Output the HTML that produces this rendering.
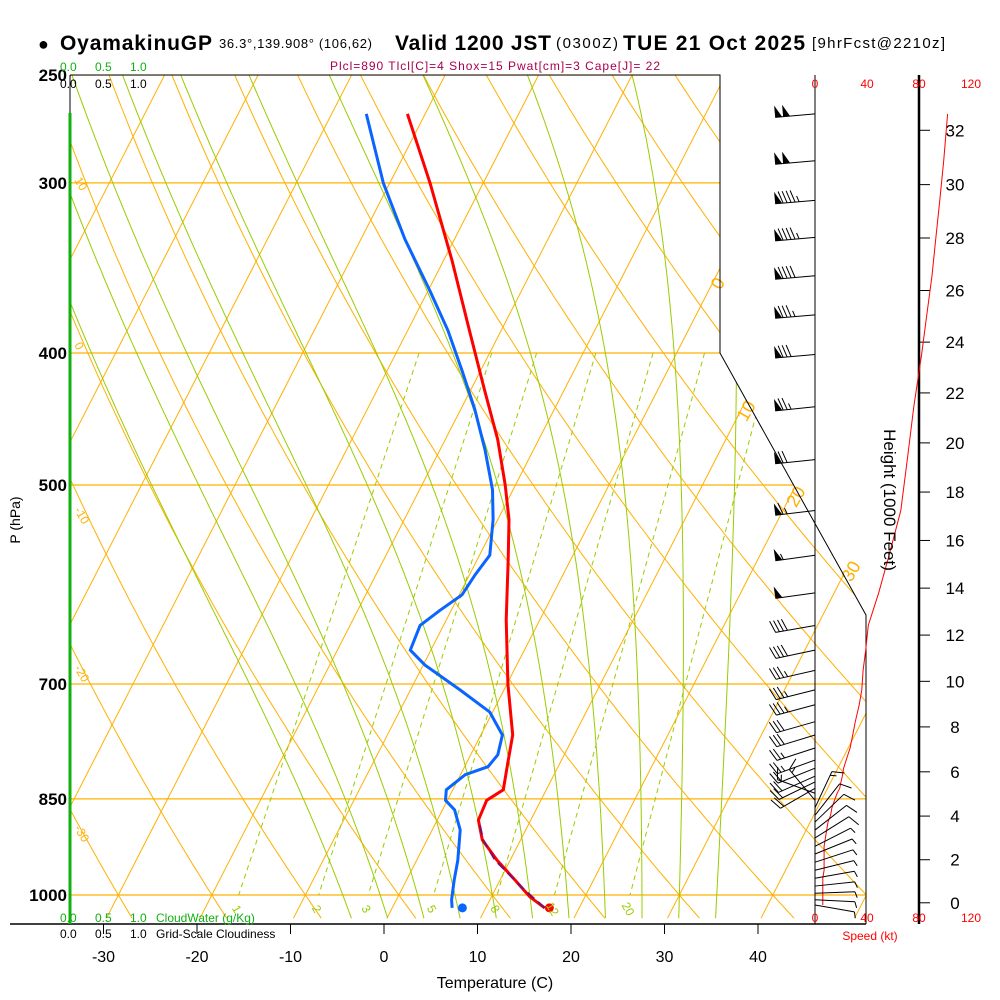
<!DOCTYPE html>
<html><head><meta charset="utf-8"><style>
body{margin:0;background:#fff}
svg{display:block;font-family:"Liberation Sans",sans-serif}
</style></head><body>
<svg id="c" width="1000" height="1000" viewBox="0 0 1000 1000">
<defs><clipPath id="clip"><polygon points="70,75 720,75 720,353 866,615 866,924 70,924"/></clipPath></defs>
<g id="grid" clip-path="url(#clip)"></g>
<g id="prof"></g>
<g id="ax"></g>
<g id="wind"></g>
<text x="38" y="50" font-size="18">●</text>
<text x="60" y="50" font-size="21" font-weight="bold" textLength="152">OyamakinuGP</text>
<text x="219" y="48" font-size="13" textLength="153">36.3°,139.908° (106,62)</text>
<text x="395" y="50" font-size="21" font-weight="bold" textLength="156">Valid 1200 JST</text>
<text x="556" y="48" font-size="15" textLength="62">(0300Z)</text>
<text x="623" y="50" font-size="21" font-weight="bold" textLength="182">TUE 21 Oct 2025</text>
<text x="812" y="48" font-size="15" textLength="133">[9hrFcst@2210z]</text>
<text x="495" y="70" font-size="12" fill="#a8004f" text-anchor="middle" textLength="330">Plcl=890 Tlcl[C]=4 Shox=15 Pwat[cm]=3 Cape[J]= 22</text>
<g font-size="12">
<text x="60" y="71" fill="#10b010">0.0</text><text x="95" y="71" fill="#10b010">0.5</text><text x="130" y="71" fill="#10b010">1.0</text>
<text x="60" y="88">0.0</text><text x="95" y="88">0.5</text><text x="130" y="88">1.0</text>
</g>
<g font-size="12">
<text x="60" y="922" fill="#10b010">0.0</text><text x="95" y="922" fill="#10b010">0.5</text><text x="130" y="922" fill="#10b010">1.0</text>
<text x="156" y="922" fill="#10b010">CloudWater (g/Kg)</text>
<text x="60" y="938">0.0</text><text x="95" y="938">0.5</text><text x="130" y="938">1.0</text>
<text x="156" y="938">Grid-Scale Cloudiness</text>
</g>
<text transform="translate(20,520) rotate(-90)" font-size="14" text-anchor="middle">P (hPa)</text>
<text x="495" y="988" font-size="16" text-anchor="middle">Temperature (C)</text>
<text transform="translate(884,500) rotate(90)" font-size="17" text-anchor="middle">Height (1000 Feet)</text>
<text x="870" y="940" font-size="12" fill="#f00" text-anchor="middle">Speed (kt)</text>
</svg>
<script>
// ---- data ----
const pressureTicks=[250,300,400,500,700,850,1000];
const tempTicks=[-30,-20,-10,0,10,20,30,40];
const heightTicks=[0,2,4,6,8,10,12,14,16,18,20,22,24,26,28,30,32];
const speedTicks=[0,40,80,120];
const tempP=[267,300,342,385,426,463,500,530,567,628,700,763,803,837,852,881,911,943,975,1003,1022];
const tempT=[-41.9,-35.7,-29.1,-23.4,-18.5,-14.4,-11.1,-8.8,-6.7,-3.6,0.1,3.4,4.5,5.4,4.2,4.4,5.9,8.6,11.6,14.1,16.3];
const dewP=[267,300,330,360,385,412,440,471,504,530,563,582,602,618,634,661,678,707,734,763,789,805,816,837,852,866,896,943,975,1008,1022];
const dewT=[-46.3,-40.7,-35.3,-29.8,-25.7,-22.0,-18.5,-15.2,-12.2,-10.5,-8.9,-9.4,-9.7,-11.2,-12.5,-12.2,-9.8,-4.7,-0.3,2.3,2.9,2.5,0.5,-0.7,-0.2,1.3,3.0,4.4,5.1,5.9,6.4];
const parcelP=[1022,992,943,911,884];
const parcelT=[16.3,13.2,8.4,6.0,4.6];
const surfT=16.8, surfTd=7.5, surfP=1022;
const windP=[267,289,309,329,351,375,401,438,479,522,563,600,634,661,684,707,725,746,763,780,796,807,818,826,835,842,852,863,874,884,896,908,921,933,946,959,972,985,997,1008,1017];
const windDir=[265,265,265,265,265,265,265,264,264,263,262,262,260,258,257,256,255,254,253,252,250,248,246,244,240,290,320,25,38,46,52,58,63,68,72,76,80,84,88,93,100];
const windSpd=[102,99,96,93,90,86,82,76,71,66,57,49,41,39,37,36,34,31,29,27,24,22,21,20,19,17,15,13,12,10,9,8,7,7,7,7,6,6,6,6,6];
const thetaLines=[-40,-30,-20,-10,0,10,20,30,40,50,60,70,80,90,100,110,120,130];
const thetaLabels=[10,0,-10,-20,-30];
const isoLines=[-130,-120,-110,-100,-90,-80,-70,-60,-50,-40,-30,-20,-10,0,10,20,30,40,50];
const isoLabels=[0,10,20,30];
const moistLines=[-6,-2,2,6,10,14,18,22,26,30,34];
const mixLines=[1,2,3,5,8,12,20];
// ---- axes ----
const NS='http://www.w3.org/2000/svg';
const yP=p=>895-591.5*Math.log(1000/p);
const xT=(T,p)=>384+9.35*T+0.5125*(924-yP(p));
const xS=s=>815+1.3*s;
const hP=h=>1013.25*Math.pow(1-2.25577e-5*h*304.8,5.25588);
function mk(tag,at,parent){const e=document.createElementNS(NS,tag);for(const k in at)e.setAttribute(k,at[k]);parent.appendChild(e);return e;}
const G=document.getElementById('grid'),PR=document.getElementById('prof'),AX=document.getElementById('ax'),W=document.getElementById('wind');
function pathFrom(ps,ts){return ps.map((p,i)=>(i?'L':'M')+xT(ts[i],p).toFixed(1)+','+yP(p).toFixed(1)).join('');}
const plist=[];for(let p=1040;p>=245;p-=5)plist.push(p);
pressureTicks.forEach(p=>{const l=mk('line',{x1:70,x2:866,y1:yP(p),y2:yP(p),stroke:'#ffb000','stroke-width':1.2},G);
});
isoLines.forEach(T=>{const l=mk('line',{x1:xT(T,1040),y1:yP(1040),x2:xT(T,245),y2:yP(245),stroke:'#ffb000','stroke-width':1},G);
});
thetaLines.forEach(th=>{const d=plist.map((p,i)=>(i?'L':'M')+xT((th+273.15)*Math.pow(p/1000,0.286)-273.15,p).toFixed(1)+','+yP(p).toFixed(1)).join('');
const e=mk('path',{d:d,fill:'none',stroke:'#ffb000','stroke-width':1},G);});
const es=T=>6.112*Math.exp(17.67*T/(T+243.5));
function dTdp(T,p){const Tk=T+273.15,e=es(T),rs=0.622*e/(p-e);return (287*Tk+2.5e6*rs)/(p*(1005+2.5e6*2.5e6*rs*0.622/(287*Tk*Tk)));}
moistLines.forEach(t0=>{let pts=[];let T=t0;for(let p=1000;p>=250;p-=2){pts.push([p,T]);T-=dTdp(T,p)*2;}
T=t0;let low=[];for(let p=1000;p<=1040;p+=2){low.push([p,T]);T+=dTdp(T,p)*2;}
pts=low.reverse().concat(pts);
const e=mk('path',{d:pts.map((q,i)=>(i?'L':'M')+xT(q[1],q[0]).toFixed(1)+','+yP(q[0]).toFixed(1)).join(''),fill:'none',stroke:'#99cc00','stroke-width':1},G);
});
function tdw(w,p){const e=w*p/(622+w);const l=Math.log(e/6.112);return 243.5*l/(17.67-l);}
mixLines.forEach(w=>{const e=mk('line',{x1:xT(tdw(w,400),400),y1:yP(400),x2:xT(tdw(w,1000),1000),y2:yP(1000),stroke:'#99cc00','stroke-width':1,'stroke-dasharray':'5,4'},G);

const t=mk('text',{x:xT(tdw(w,1000),1000)-2,y:yP(1000)+18,'font-size':12,fill:'#99cc00','text-anchor':'middle',transform:`rotate(60 ${xT(tdw(w,1000),1000)-2} ${yP(1000)+14})`},AX);t.textContent=w;
});
isoLabels.forEach(T=>{const p=[360,450,520,590][isoLabels.indexOf(T)];const x=xT(T,p)+12,y=yP(p);
const t=mk('text',{x:x,y:y,'font-size':18,fill:'#ffb000',transform:`rotate(-60 ${x} ${y})`},AX);t.textContent=T;
});
thetaLabels.forEach((th,i)=>{const y=[180,345,510,668,828][i];const t=mk('text',{x:74,y:y,'font-size':12,fill:'#ffb000',transform:`rotate(60 74 ${y})`},AX);t.textContent=th;
});
let e=mk('polyline',{points:'70,75 720,75 720,353 866,615 866,924',fill:'none',stroke:'#000','stroke-width':1},AX);
e=mk('line',{x1:10,x2:866,y1:924,y2:924,stroke:'#000','stroke-width':1.5},AX);
e=mk('line',{x1:70,x2:70,y1:75,y2:113,stroke:'#000','stroke-width':1},AX);
e=mk('line',{x1:70,x2:70,y1:113,y2:924,stroke:'#10b010','stroke-width':3},AX);
tempTicks.forEach(T=>{const x=384+9.35*T;let l=mk('line',{x1:x,x2:x,y1:924,y2:934,stroke:'#000'},AX);
const t=mk('text',{x:x,y:962,'font-size':16,'text-anchor':'middle'},AX);t.textContent=T;});
pressureTicks.forEach(p=>{const t=mk('text',{x:67,y:yP(p)+6,'font-size':17,'font-weight':'bold','text-anchor':'end'},AX);t.textContent=p;});
e=mk('line',{x1:919,x2:919,y1:75,y2:924,stroke:'#000','stroke-width':2.5},AX);
heightTicks.forEach(h=>{const y=yP(hP(h));let l=mk('line',{x1:919,x2:930,y1:y,y2:y,stroke:'#000'},AX);
const t=mk('text',{x:955,y:y+6,'font-size':17,'text-anchor':'middle'},AX);t.textContent=h;});
e=mk('line',{x1:815,x2:815,y1:75,y2:924,stroke:'#000','stroke-width':1},AX);
speedTicks.forEach(s=>{[88,922].forEach(y=>{const t=mk('text',{x:xS(s),y:y,'font-size':12,fill:'#f00','text-anchor':'middle'},AX);t.textContent=s;});});
e=mk('path',{d:windP.map((p,i)=>(i?'L':'M')+xS(windSpd[i]).toFixed(1)+','+yP(p).toFixed(1)).join(''),fill:'none',stroke:'#f00','stroke-width':1},AX);

e=mk('path',{d:pathFrom(dewP,dewT),fill:'none',stroke:'#0a64ff','stroke-width':3},PR);
e=mk('path',{d:pathFrom(tempP,tempT),fill:'none',stroke:'#f00','stroke-width':3},PR);
e=mk('path',{d:pathFrom(parcelP,parcelT),fill:'none',stroke:'#7a0f6a','stroke-width':2,'stroke-dasharray':'9,5'},PR);
e=mk('circle',{cx:xT(surfT,surfP),cy:yP(surfP),r:4.5,fill:'#f00'},PR);
e=mk('circle',{cx:xT(surfTd,surfP),cy:yP(surfP),r:4.5,fill:'#0a64ff'},PR);
windP.forEach((p,i)=>{const d=windDir[i]*Math.PI/180,ux=Math.sin(d),uy=-Math.cos(d),px=-uy,py=ux;
const x0=815,y0=yP(p),L=40;let d1=`M${x0},${y0}L${(x0+L*ux).toFixed(1)},${(y0+L*uy).toFixed(1)}`;
let s=Math.round(windSpd[i]/5)*5,pos=L,fl='';
while(s>=50){const ax=x0+pos*ux,ay=y0+pos*uy,bx=x0+(pos-7)*ux,by=y0+(pos-7)*uy;
fl+=`M${ax.toFixed(1)},${ay.toFixed(1)}L${(ax+12*px).toFixed(1)},${(ay+12*py).toFixed(1)}L${bx.toFixed(1)},${by.toFixed(1)}Z`;pos-=8;s-=50;}
while(s>=10){const ax=x0+pos*ux,ay=y0+pos*uy;d1+=`M${ax.toFixed(1)},${ay.toFixed(1)}l${(12*px+4*ux).toFixed(1)},${(12*py+4*uy).toFixed(1)}`;pos-=4;s-=10;}
if(s>=5){const ax=x0+pos*ux,ay=y0+pos*uy;d1+=`M${ax.toFixed(1)},${ay.toFixed(1)}l${(6*px+2*ux).toFixed(1)},${(6*py+2*uy).toFixed(1)}`;}
const g=mk('g',{},W);
mk('path',{d:d1,fill:'none',stroke:'#000','stroke-width':1},g);if(fl)mk('path',{d:fl,fill:'#000'},g);});
</script>
</body></html>
